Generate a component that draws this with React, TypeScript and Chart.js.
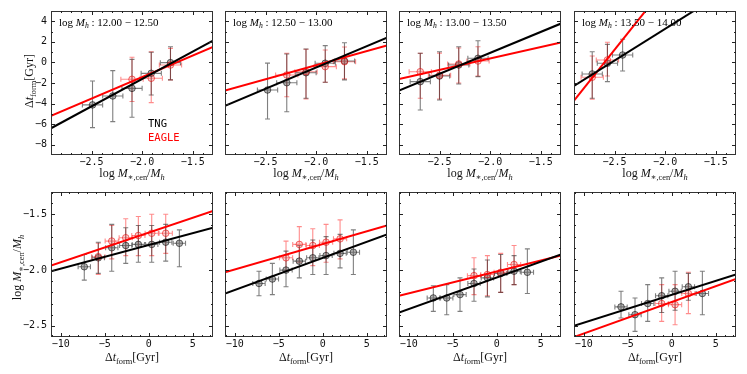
import React, { useEffect, useRef } from 'react';
import { Chart, registerables } from 'chart.js';

Chart.register(...registerables);

const CANVAS_W = 747;
const CANVAS_H = 374;

// panel frame geometry (pixels)
const COL_LEFT = [51, 225, 399, 574];
const PANEL_W = 162;
const ROW_TOP = [11, 192];
const ROW_BOTTOM = [155, 337];

const HALO_BIN_LO = ['12.00', '12.50', '13.00', '13.50'];
const HALO_BIN_HI = ['12.50', '13.00', '13.50', '14.00'];

// axis ranges & ticks
const TOP_X_RANGE = [-2.9, -1.3];
const TOP_Y_RANGE = [-9, 5];
const BOT_X_RANGE = [-11.1, 7.3];
const BOT_Y_RANGE = [-2.6, -1.3];

const TOP_X_TICKS = [-2.5, -2.0, -1.5];
const TOP_X_TICK_LABELS = ['−2.5', '−2.0', '−1.5'];
const TOP_Y_TICKS = [4, 2, 0, -2, -4, -6, -8];
const TOP_Y_TICK_LABELS = ['4', '2', '0', '−2', '−4', '−6', '−8'];
const BOT_X_TICKS = [-10, -5, 0, 5];
const BOT_X_TICK_LABELS = ['−10', '−5', '0', '5'];
const BOT_Y_TICKS = [-1.5, -2.0, -2.5];
const BOT_Y_TICK_LABELS = ['−1.5', '−2.0', '−2.5'];

const TOP_X_MINOR_STEP = 0.1;
const TOP_Y_MINOR_STEP = 1;
const BOT_X_MINOR_STEP = 1;
const BOT_Y_MINOR_STEP = 0.1;

// ---------- top row: Δt_form vs log M*/Mh ----------
const TOP_TNG_X = [
  [-2.49, -2.29, -2.10, -1.91, -1.72],
  [-2.48, -2.29, -2.10, -1.91, -1.72],
  [-2.69, -2.50, -2.31, -2.12],
  [-2.72, -2.57, -2.42],
];
const TOP_TNG_Y = [
  [-4.13, -3.26, -2.52, -1.06, -0.02],
  [-2.68, -1.97, -1.0, -0.08, 0.14],
  [-1.87, -1.32, -0.25, 0.4],
  [-1.12, -0.08, 0.72],
];
const TOP_TNG_YLO = [
  [-6.34, -5.76, -5.33, -3.16, -1.7],
  [-5.5, -4.79, -3.48, -1.93, -1.7],
  [-4.62, -3.65, -2.1, -1.38],
  [-3.48, -1.87, -0.83],
];
const TOP_TNG_YHI = [
  [-1.8, -0.8, 0.3, 0.99, 1.53],
  [-0.07, 0.82, 1.31, 1.63, 1.92],
  [0.89, 1.04, 1.53, 2.11],
  [1.04, 1.76, 2.25],
];
const TOP_EAGLE_X = [
  [-2.10, -1.91, -1.72],
  [-2.29, -2.10, -1.91, -1.72],
  [-2.69, -2.50, -2.31, -2.12],
  [-2.72, -2.57],
];
const TOP_EAGLE_Y = [
  [-1.64, -1.54, -0.25],
  [-1.22, -0.9, -0.41, 0.07],
  [-0.9, -1.25, -0.15, 0.14],
  [-1.44, 0.24],
];
const TOP_EAGLE_YLO = [
  [-3.8, -3.91, -1.7],
  [-3.33, -3.55, -1.93, -1.6],
  [-3.48, -3.55, -2.0, -1.32],
  [-3.58, -1.32],
];
const TOP_EAGLE_YHI = [
  [0.5, 1.04, 1.37],
  [0.89, 1.28, 1.21, 1.5],
  [0.89, 0.9, 1.4, 1.53],
  [0.63, 1.96],
];
const TOP_TNG_XERR = 0.1;
const TOP_EAGLE_XERR = 0.11;
// fit lines: y at x-range start and end
const TOP_TNG_FIT = [[-6.4, 2.12], [-4.23, 2.4], [-2.74, 3.78], [-2.29, 7.58]];
const TOP_EAGLE_FIT = [[-5.2, 1.5], [-2.74, 1.66], [-1.61, 1.94], [-3.72, 16.05]];

// ---------- bottom row: log M*/Mh vs Δt_form ----------
const BOT_TNG_X = [
  [-7.32, -5.73, -4.2, -2.61, -1.18, 0.34, 1.93, 3.48],
  [-7.24, -5.72, -4.17, -2.66, -1.13, 0.38, 1.97, 3.48],
  [-7.2, -5.68, -4.17, -2.58, -1.06, 0.45, 1.97, 3.48],
  [-5.76, -4.17, -2.73, -1.14, 0.38, 1.89, 3.48],
];
const BOT_TNG_Y = [
  [-1.97, -1.89, -1.8, -1.78, -1.77, -1.77, -1.75, -1.76],
  [-2.12, -2.08, -2.0, -1.92, -1.89, -1.87, -1.85, -1.84],
  [-2.25, -2.25, -2.22, -2.12, -2.07, -2.03, -2.01, -2.02],
  [-2.33, -2.4, -2.3, -2.23, -2.19, -2.15, -2.21],
];
const BOT_TNG_YLO = [
  [-2.09, -2.03, -2.01, -1.94, -1.93, -1.93, -1.92, -1.97],
  [-2.23, -2.22, -2.15, -2.07, -2.04, -2.04, -1.98, -2.04],
  [-2.37, -2.4, -2.37, -2.28, -2.24, -2.2, -2.13, -2.21],
  [-2.43, -2.55, -2.46, -2.38, -2.36, -2.27, -2.4],
];
const BOT_TNG_YHI = [
  [-1.86, -1.75, -1.59, -1.62, -1.6, -1.6, -1.59, -1.64],
  [-2.01, -1.94, -1.83, -1.78, -1.73, -1.7, -1.68, -1.64],
  [-2.14, -2.13, -2.07, -1.99, -1.91, -1.86, -1.87, -1.81],
  [-2.19, -2.25, -2.13, -2.07, -2.01, -2.03, -2.01],
];
const BOT_EAGLE_X = [
  [-5.73, -4.2, -2.61, -1.18, 0.34, 1.93],
  [-4.17, -2.66, -1.13, 0.38, 1.97],
  [-2.58, -1.06, 0.45, 1.97],
  [-1.14, 0.38, 1.89],
];
const BOT_EAGLE_Y = [
  [-1.88, -1.74, -1.71, -1.69, -1.67, -1.67],
  [-1.89, -1.77, -1.78, -1.75, -1.72],
  [-2.05, -2.04, -2.02, -1.95],
  [-2.3, -2.31, -2.21],
];
const BOT_EAGLE_YLO = [
  [-2.04, -1.9, -1.87, -1.87, -1.87, -1.85],
  [-2.01, -1.93, -1.96, -1.93, -1.9],
  [-2.22, -2.23, -2.2, -2.13],
  [-2.46, -2.49, -2.39],
];
const BOT_EAGLE_YHI = [
  [-1.76, -1.6, -1.54, -1.52, -1.5, -1.5],
  [-1.74, -1.61, -1.63, -1.59, -1.55],
  [-1.89, -1.87, -1.85, -1.78],
  [-2.13, -2.13, -2.02],
];
const BOT_TNG_XERR = 0.7;
const BOT_EAGLE_XERR = 0.75;
const BOT_TNG_FIT = [[-2.01, -1.62], [-2.21, -1.68], [-2.38, -1.86], [-2.5, -2.04]];
const BOT_EAGLE_FIT = [[-1.96, -1.47], [-2.02, -1.6], [-2.23, -1.87], [-2.6, -2.08]];

// ---------- styling ----------
const TNG_ERR = 'rgba(0,0,0,0.5)';
const EAGLE_ERR = 'rgba(255,0,0,0.45)';
const SERIF = '"Liberation Serif", "DejaVu Serif", serif';
const MONO = '"DejaVu Sans Mono", monospace';

type Seg = { t: string; it?: boolean; sub?: boolean };

function segFont(s: Seg, size: number) {
  const sz = s.sub ? size * 0.7 : size;
  return `${s.it ? 'italic ' : ''}${sz}px ${SERIF}`;
}

function drawRich(ctx: CanvasRenderingContext2D, segs: Seg[], x: number, y: number, size: number, align: 'left' | 'center') {
  let total = 0;
  const widths = segs.map((s) => {
    ctx.font = segFont(s, size);
    const w = ctx.measureText(s.t).width;
    total += w;
    return w;
  });
  let cx = align === 'center' ? x - total / 2 : x;
  ctx.textAlign = 'left';
  ctx.textBaseline = 'alphabetic';
  segs.forEach((s, i) => {
    ctx.font = segFont(s, size);
    ctx.fillText(s.t, cx, s.sub ? y + size * 0.22 : y);
    cx += widths[i];
  });
}

const MSTAR_LABEL: Seg[] = [
  { t: 'log ' },
  { t: 'M', it: true },
  { t: '∗,cen', sub: true },
  { t: '/' },
  { t: 'M', it: true },
  { t: 'h', it: true, sub: true },
];
const DT_LABEL: Seg[] = [
  { t: 'Δ' },
  { t: 't', it: true },
  { t: 'form', sub: true },
  { t: '[Gyr]' },
];

function makePoints(xs: number[], ys: number[], lo: number[], hi: number[], xe: number) {
  return xs.map((x, i) => ({ x, y: ys[i], yLo: lo[i], yHi: hi[i], xe }));
}

function Panel({ row, col }: { row: number; col: number }) {
  const ref = useRef<HTMLCanvasElement | null>(null);
  useEffect(() => {
    const canvas = ref.current;
    if (!canvas) return;
    const left = COL_LEFT[col];
    const right = left + PANEL_W;
    const top = ROW_TOP[row];
    const bottom = ROW_BOTTOM[row];
    const isTop = row === 0;
    const xr = isTop ? TOP_X_RANGE : BOT_X_RANGE;
    const yr = isTop ? TOP_Y_RANGE : BOT_Y_RANGE;

    const tng = isTop
      ? makePoints(TOP_TNG_X[col], TOP_TNG_Y[col], TOP_TNG_YLO[col], TOP_TNG_YHI[col], TOP_TNG_XERR)
      : makePoints(BOT_TNG_X[col], BOT_TNG_Y[col], BOT_TNG_YLO[col], BOT_TNG_YHI[col], BOT_TNG_XERR);
    const eagle = isTop
      ? makePoints(TOP_EAGLE_X[col], TOP_EAGLE_Y[col], TOP_EAGLE_YLO[col], TOP_EAGLE_YHI[col], TOP_EAGLE_XERR)
      : makePoints(BOT_EAGLE_X[col], BOT_EAGLE_Y[col], BOT_EAGLE_YLO[col], BOT_EAGLE_YHI[col], BOT_EAGLE_XERR);
    const tFit = isTop ? TOP_TNG_FIT[col] : BOT_TNG_FIT[col];
    const eFit = isTop ? TOP_EAGLE_FIT[col] : BOT_EAGLE_FIT[col];

    const xTicks = isTop ? TOP_X_TICKS : BOT_X_TICKS;
    const xTickLabels = isTop ? TOP_X_TICK_LABELS : BOT_X_TICK_LABELS;
    const yTicks = isTop ? TOP_Y_TICKS : BOT_Y_TICKS;
    const yTickLabels = isTop ? TOP_Y_TICK_LABELS : BOT_Y_TICK_LABELS;
    const xMinorStep = isTop ? TOP_X_MINOR_STEP : BOT_X_MINOR_STEP;
    const yMinorStep = isTop ? TOP_Y_MINOR_STEP : BOT_Y_MINOR_STEP;

    const decor = {
      id: 'decor',
      beforeDatasetsDraw(chart: any) {
        const ctx = chart.ctx as CanvasRenderingContext2D;
        const xs = chart.scales.x;
        const ys = chart.scales.y;
        ctx.save();
        chart.data.datasets.forEach((ds: any) => {
          if (!ds.errColor) return;
          ctx.strokeStyle = ds.errColor;
          ctx.lineWidth = 1.1;
          const cap = 2.5;
          ds.data.forEach((p: any) => {
            const px = xs.getPixelForValue(p.x);
            const py = ys.getPixelForValue(p.y);
            const x0 = xs.getPixelForValue(p.x - p.xe);
            const x1 = xs.getPixelForValue(p.x + p.xe);
            const y0 = ys.getPixelForValue(p.yLo);
            const y1 = ys.getPixelForValue(p.yHi);
            ctx.beginPath();
            ctx.moveTo(x0, py); ctx.lineTo(x1, py);
            ctx.moveTo(px, y0); ctx.lineTo(px, y1);
            ctx.moveTo(px - cap, y0); ctx.lineTo(px + cap, y0);
            ctx.moveTo(px - cap, y1); ctx.lineTo(px + cap, y1);
            ctx.moveTo(x0, py - cap); ctx.lineTo(x0, py + cap);
            ctx.moveTo(x1, py - cap); ctx.lineTo(x1, py + cap);
            ctx.stroke();
          });
        });
        ctx.restore();
      },
      afterDraw(chart: any) {
        const ctx = chart.ctx as CanvasRenderingContext2D;
        const xs = chart.scales.x;
        const ys = chart.scales.y;
        const a = chart.chartArea;
        ctx.save();
        // frame
        ctx.strokeStyle = '#333';
        ctx.lineWidth = 1;
        ctx.strokeRect(a.left + 0.5, a.top + 0.5, a.right - a.left - 1, a.bottom - a.top - 1);
        // ticks
        ctx.strokeStyle = '#222';
        ctx.beginPath();
        const xTick = (v: number, len: number) => {
          const p = Math.round(xs.getPixelForValue(v)) + 0.5;
          if (p < a.left + 1 || p > a.right - 1) return;
          ctx.moveTo(p, a.bottom); ctx.lineTo(p, a.bottom - len);
          ctx.moveTo(p, a.top); ctx.lineTo(p, a.top + len);
        };
        const yTick = (v: number, len: number) => {
          const p = Math.round(ys.getPixelForValue(v)) + 0.5;
          if (p < a.top + 1 || p > a.bottom - 1) return;
          ctx.moveTo(a.left, p); ctx.lineTo(a.left + len, p);
          ctx.moveTo(a.right, p); ctx.lineTo(a.right - len, p);
        };
        const nx = Math.round((xr[1] - xr[0]) / xMinorStep) + 2;
        const x0 = Math.ceil(xr[0] / xMinorStep) * xMinorStep;
        for (let i = 0; i < nx; i++) xTick(x0 + i * xMinorStep, 2);
        const ny = Math.round((yr[1] - yr[0]) / yMinorStep) + 2;
        const y0 = Math.ceil(yr[0] / yMinorStep) * yMinorStep;
        for (let i = 0; i < ny; i++) yTick(y0 + i * yMinorStep, 2);
        xTicks.forEach((v) => xTick(v, 4));
        yTicks.forEach((v) => yTick(v, 4));
        ctx.stroke();

        // tick labels
        ctx.fillStyle = '#111';
        ctx.font = `10px ${MONO}`;
        ctx.textAlign = 'center';
        ctx.textBaseline = 'middle';
        xTicks.forEach((v, i) => ctx.fillText(xTickLabels[i], xs.getPixelForValue(v), a.bottom + 7));
        if (col === 0) {
          ctx.textAlign = 'right';
          yTicks.forEach((v, i) => ctx.fillText(yTickLabels[i], a.left - 4, ys.getPixelForValue(v)));
        }

        // axis labels
        ctx.fillStyle = '#111';
        const cx = (a.left + a.right) / 2;
        if (isTop) {
          drawRich(ctx, MSTAR_LABEL, cx, a.bottom + 22, 12, 'center');
        } else {
          drawRich(ctx, DT_LABEL, cx, a.bottom + 24, 12, 'center');
        }
        if (col === 0) {
          ctx.save();
          if (isTop) {
            ctx.translate(29, (a.top + a.bottom) / 2 - 2);
            ctx.rotate(-Math.PI / 2);
            drawRich(ctx, DT_LABEL, 0, 4, 12, 'center');
          } else {
            ctx.translate(17, (a.top + a.bottom) / 2 + 3);
            ctx.rotate(-Math.PI / 2);
            drawRich(ctx, MSTAR_LABEL, 0, 4, 12, 'center');
          }
          ctx.restore();
        }

        if (isTop) {
          // halo mass bin title
          ctx.fillStyle = '#000';
          drawRich(
            ctx,
            [
              { t: 'log ' },
              { t: 'M', it: true },
              { t: 'h', it: true, sub: true },
              { t: ' : ' + HALO_BIN_LO[col] + ' − ' + HALO_BIN_HI[col] },
            ],
            a.left + 8,
            a.top + 15,
            11,
            'left'
          );
          if (col === 0) {
            ctx.font = `10.5px ${MONO}`;
            ctx.textAlign = 'left';
            ctx.textBaseline = 'alphabetic';
            ctx.fillStyle = '#000';
            ctx.fillText('TNG', a.left + 97, 127);
            ctx.fillStyle = '#ff0000';
            ctx.fillText('EAGLE', a.left + 97, 141);
          }
        }
        ctx.restore();
      },
    };

    const chart = new Chart(canvas, {
      type: 'scatter',
      data: {
        datasets: [
          {
            label: 'TNG fit',
            data: [{ x: xr[0], y: tFit[0] }, { x: xr[1], y: tFit[1] }],
            showLine: true,
            borderColor: '#000',
            borderWidth: 2,
            pointRadius: 0,
            order: 0,
          } as any,
          {
            label: 'EAGLE fit',
            data: [{ x: xr[0], y: eFit[0] }, { x: xr[1], y: eFit[1] }],
            showLine: true,
            borderColor: '#ff0000',
            borderWidth: 2,
            pointRadius: 0,
            order: 0,
          } as any,
          {
            label: 'EAGLE',
            data: eagle,
            errColor: EAGLE_ERR,
            pointRadius: 3.3,
            backgroundColor: 'rgba(255,110,110,0.3)',
            borderColor: 'rgba(230,0,0,0.55)',
            borderWidth: 1,
            order: 1,
          } as any,
          {
            label: 'TNG',
            data: tng,
            errColor: TNG_ERR,
            pointRadius: 3.3,
            backgroundColor: 'rgba(90,90,90,0.45)',
            borderColor: 'rgba(0,0,0,0.55)',
            borderWidth: 1,
            order: 2,
          } as any,
        ],
      },
      options: {
        animation: false,
        responsive: false,
        maintainAspectRatio: false,
        devicePixelRatio: 1,
        layout: {
          padding: { left, top, right: CANVAS_W - right, bottom: CANVAS_H - bottom },
        },
        plugins: { legend: { display: false }, tooltip: { enabled: false } },
        events: [],
        scales: {
          x: { type: 'linear', min: xr[0], max: xr[1], display: false },
          y: { type: 'linear', min: yr[0], max: yr[1], display: false },
        },
      },
      plugins: [decor],
    } as any);
    return () => chart.destroy();
  }, [row, col]);

  return (
    <canvas
      ref={ref}
      width={CANVAS_W}
      height={CANVAS_H}
      style={{ position: 'absolute', left: 0, top: 0, width: CANVAS_W, height: CANVAS_H }}
    />
  );
}

export default function App() {
  const panels: { row: number; col: number }[] = [];
  for (let r = 0; r < 2; r++) for (let c = 0; c < 4; c++) panels.push({ row: r, col: c });
  return (
    <div
      style={{
        position: 'absolute',
        left: 0,
        top: 0,
        width: CANVAS_W,
        height: CANVAS_H,
        background: '#fff',
        overflow: 'hidden',
      }}
    >
      {panels.map((p) => (
        <Panel key={`${p.row}-${p.col}`} row={p.row} col={p.col} />
      ))}
    </div>
  );
}
